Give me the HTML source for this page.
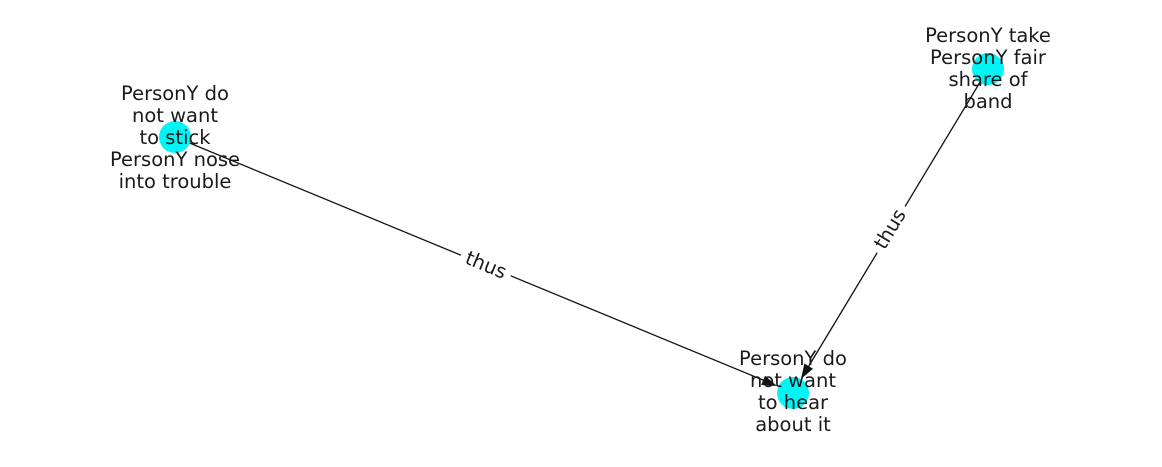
<!DOCTYPE html>
<html><head><meta charset="utf-8"><style>
html,body{margin:0;padding:0;background:#fff;}
svg text{font-family:"DejaVu Sans","Liberation Sans",sans-serif;font-size:19.5px;fill:#1a1a1a;}
</style></head><body>
<svg width="1162" height="462" viewBox="0 0 1162 462" xmlns="http://www.w3.org/2000/svg">
<g stroke="#111" stroke-width="1.3">
<line x1="175" y1="137" x2="764" y2="380.5"/>
<line x1="988" y1="69" x2="808.5" y2="366.5"/>
</g>
<polygon points="777,386 761.2,384.9 765,375.7" fill="#111"/>
<polygon points="801,379 813,368.7 804.4,363.5" fill="#111"/>
<circle cx="175" cy="137" r="16" fill="#00f5f5"/>
<circle cx="988" cy="69" r="16" fill="#00f5f5"/>
<circle cx="793" cy="393" r="16" fill="#00f5f5"/>
<g transform="translate(486,265) rotate(22.5)"><rect x="-27" y="-12" width="54" height="24" fill="#fff"/><text text-anchor="middle" dominant-baseline="central">thus</text></g>
<g transform="translate(890,229) rotate(-59)"><rect x="-27" y="-12" width="54" height="24" fill="#fff"/><text text-anchor="middle" dominant-baseline="central">thus</text></g>
<g text-anchor="middle">
<text x="175" y="100">PersonY do</text>
<text x="175" y="122">not want</text>
<text x="175" y="144">to stick</text>
<text x="175" y="166">PersonY nose</text>
<text x="175" y="188">into trouble</text>
<text x="988" y="42">PersonY take</text>
<text x="988" y="64">PersonY fair</text>
<text x="988" y="86">share of</text>
<text x="988" y="108">band</text>
<text x="793" y="365">PersonY do</text>
<text x="793" y="387">not want</text>
<text x="793" y="409">to hear</text>
<text x="793" y="431">about it</text>
</g>
</svg>
</body></html>
